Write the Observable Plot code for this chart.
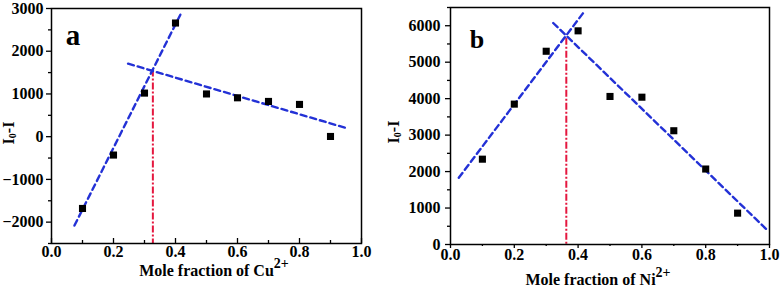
<!DOCTYPE html>
<html><head><meta charset="utf-8">
<script src="https://cdn.jsdelivr.net/npm/d3@7"></script>
<script src="https://cdn.jsdelivr.net/npm/@observablehq/plot@0.6"></script>
<style>
body{margin:0;background:#fff}
#wrap{display:flex;width:782px;height:289px;overflow:hidden}
svg{display:block}
svg text{font-family:"Liberation Serif","Times New Roman",serif !important;font-weight:bold !important;}
</style>
</head><body><div id="wrap"></div>
<script>
// ---- data ----
const moleFraction = [0.1, 0.2, 0.3, 0.4, 0.5, 0.6, 0.7, 0.8, 0.9];
const cuValues = [-1680, -430, 1020, 2660, 1000, 910, 825, 755, 5];
const niValues = [2340, 3850, 5300, 5860, 4060, 4040, 3120, 2070, 860];

const cuRiseX = [0.074, 0.416];
const cuRiseY = [-2080, 2860];
const cuFallX = [0.247, 0.954];
const cuFallY = [1710, 195];
const cuCross = 0.327;
const cuCrossTop = 1560;

const niRiseX = [0.026, 0.416];
const niRiseY = [1830, 6350];
const niFallX = [0.322, 0.993];
const niFallY = [6075, 395];
const niCross = 0.363;
const niCrossTop = 5660;

const xTicks = [0, 0.2, 0.4, 0.6, 0.8, 1.0];
const xMinor = [0.1, 0.3, 0.5, 0.7, 0.9];
const cuYTicks = [-2000, -1000, 0, 1000, 2000, 3000];
const cuYMinor = [-2500, -1500, -500, 500, 1500, 2500];
const niYTicks = [0, 1000, 2000, 3000, 4000, 5000, 6000];
const niYMinor = [500, 1500, 2500, 3500, 4500, 5500, 6500];

const BLUE = "#2331d6";
const RED = "#e5173f";
const FONT = "'Liberation Serif', 'Times New Roman', serif";
const TICK_FS = 16;

function rows(xs, ys) { return xs.map((x, i) => ({x, y: ys[i]})); }

function panel(cfg) {
  const svg = Plot.plot({
    width: cfg.width, height: 289,
    marginLeft: cfg.ml, marginRight: cfg.mr, marginTop: cfg.mt, marginBottom: cfg.mb,
    x: {domain: [0, 1], label: null},
    y: {domain: cfg.yDomain, label: null},
    style: {fontFamily: FONT, fontWeight: "bold", fontSize: TICK_FS + "px", color: "black", background: "white", overflow: "visible"},
    marks: [
      Plot.axisY({ticks: cfg.yMinor, tickSize: 3, fill: "none", strokeWidth: 1.3, label: null}),
      Plot.axisY({ticks: cfg.yTicks, tickSize: 5, tickPadding: cfg.tp, tickFormat: d3.format("d"), fontSize: TICK_FS, strokeWidth: 1.3, label: null}),
      Plot.axisX({ticks: xMinor, tickSize: cfg.xMinorSize, fill: "none", strokeWidth: 1.3, label: null}),
      Plot.axisX({ticks: xTicks, tickSize: cfg.xMajorSize, fill: "none", strokeWidth: 1.3, label: null}),
      Plot.axisX({ticks: xTicks, tickSize: 0, tickPadding: cfg.xtp, tickFormat: d3.format(".1f"), fontSize: TICK_FS, label: null}),
      Plot.ruleX([cfg.cross], {y1: cfg.crossTop, y2: cfg.yDomain[0], stroke: RED, strokeWidth: 2, strokeDasharray: "7,2,2,2"}),
      Plot.line(rows(cfg.riseX, cfg.riseY), {x: "x", y: "y", stroke: BLUE, strokeWidth: 2.4, strokeDasharray: "6,4"}),
      Plot.line(rows(cfg.fallX, cfg.fallY), {x: "x", y: "y", stroke: BLUE, strokeWidth: 2.4, strokeDasharray: "6,4"}),
      Plot.dot(rows(moleFraction, cfg.values), {x: "x", y: "y", symbol: "square", r: 4, fill: "black", stroke: "none"}),
      Plot.frame({stroke: "black", strokeWidth: 1.5})
    ]
  });
  const s = d3.select(svg);
  s.selectAll('g[aria-label$="tick label"] text').style("font-size", TICK_FS + "px");
  s.append("text").attr("x", cfg.letterX).attr("y", cfg.letterY)
    .attr("font-family", FONT).attr("font-weight", "bold").attr("font-size", cfg.letterSize)
    .attr("fill", "black").text(cfg.letter);
  const yl = s.append("text")
    .attr("transform", `translate(${cfg.ylx},${cfg.yly}) rotate(-90)`)
    .attr("text-anchor", "middle").attr("dominant-baseline", "central")
    .attr("font-family", FONT).attr("font-weight", "bold").attr("font-size", 16).attr("fill", "black");
  yl.append("tspan").text("I");
  yl.append("tspan").attr("font-size", 10).attr("dy", 4).text("0");
  yl.append("tspan").attr("dy", -4).text("-I");
  const xl = s.append("text").attr("x", cfg.xlx).attr("y", cfg.xly)
    .attr("text-anchor", "middle")
    .attr("font-family", FONT).attr("font-weight", "bold").attr("font-size", 16).attr("fill", "black");
  xl.append("tspan").text("Mole fraction of " + cfg.ion);
  xl.append("tspan").attr("font-size", 14).attr("dy", -8).text("2+");
  return svg;
}

const wrap = document.getElementById("wrap");
wrap.appendChild(panel({
  width: 386, ml: 51, mr: 25, mt: 8, mb: 46, tp: 3,
  xMajorSize: -5, xMinorSize: -3, xtp: 2,
  yDomain: [-2500, 3000], yTicks: cuYTicks, yMinor: cuYMinor,
  values: cuValues, riseX: cuRiseX, riseY: cuRiseY, fallX: cuFallX, fallY: cuFallY,
  cross: cuCross, crossTop: cuCrossTop,
  letter: "a", letterX: 73, letterY: 45, letterSize: 29,
  ylx: 8, yly: 133, xlx: 214, xly: 276, ion: "Cu"
}));
wrap.appendChild(panel({
  width: 396, ml: 64, mr: 13, mt: 7, mb: 45, tp: 5,
  xMajorSize: 4, xMinorSize: 2, xtp: 4,
  yDomain: [0, 6500], yTicks: niYTicks, yMinor: niYMinor,
  values: niValues, riseX: niRiseX, riseY: niRiseY, fallX: niFallX, fallY: niFallY,
  cross: niCross, crossTop: niCrossTop,
  letter: "b", letterX: 91, letterY: 48, letterSize: 26,
  ylx: 7, yly: 132, xlx: 212, xly: 285, ion: "Ni"
}));
</script>
</body></html>
